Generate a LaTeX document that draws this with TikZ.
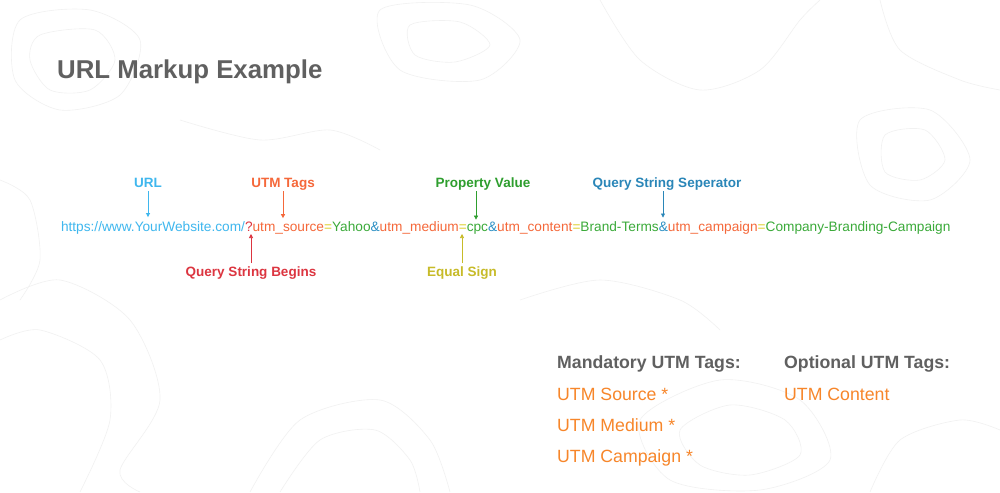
\documentclass[tikz,border=0pt]{standalone}
\usepackage{fontspec}
\setmainfont{Liberation Sans}
\usetikzlibrary{arrows.meta}
\definecolor{urlblue}{HTML}{3FB7EE}
\definecolor{qred}{HTML}{DC3540}
\definecolor{tagor}{HTML}{F5683A}
\definecolor{eqy}{HTML}{DDD02E}
\definecolor{valg}{HTML}{3BAA3A}
\definecolor{ampb}{HTML}{2A8FC4}
\definecolor{pvg}{HTML}{2E9E2E}
\definecolor{sepb}{HTML}{2A86B8}
\definecolor{headg}{HTML}{606060}
\definecolor{itemor}{HTML}{F7862A}
\definecolor{topo}{HTML}{F1F1F1}
\tikzset{
  seg/.style={inner sep=0pt, outer sep=0pt, anchor=base west, font=\fontsize{13.68}{16}\selectfont},
  lbl/.style={inner sep=0pt, outer sep=0pt, anchor=base, font=\fontsize{13.5}{16}\selectfont\bfseries},
  ptr/.style={-{Triangle[length=4pt,width=4pt]}, line width=0.7pt},
  head/.style={inner sep=0pt, anchor=base west, text=headg, font=\fontsize{17.7}{21}\selectfont\bfseries},
  item/.style={inner sep=0pt, anchor=base west, text=itemor, font=\fontsize{17.7}{21}\selectfont},
  contour/.style={draw=topo, line width=0.6pt}
}
\begin{document}
\begin{tikzpicture}[x=1pt,y=-1pt]
\useasboundingbox (0,0) rectangle (1000,492);
\fill[white] (0,0) rectangle (1000,492);
% faint topographic background
\draw[contour] plot[smooth cycle] coordinates {(20,20) (90,10) (140,40) (120,95) (60,110) (15,80)};
\draw[contour] plot[smooth cycle] coordinates {(40,35) (95,30) (115,60) (90,90) (50,90) (30,60)};
\draw[contour] plot[smooth cycle] coordinates {(380,10) (470,5) (520,40) (480,80) (400,70)};
\draw[contour] plot[smooth cycle] coordinates {(410,25) (460,22) (490,45) (455,62) (415,55)};
\draw[contour] plot[smooth] coordinates {(600,0) (640,60) (700,90) (760,70) (800,20) (820,0)};
\draw[contour] plot[smooth] coordinates {(880,0) (900,50) (960,80) (1000,90)};
\draw[contour] plot[smooth cycle] coordinates {(860,120) (930,110) (970,160) (930,200) (870,185)};
\draw[contour] plot[smooth cycle] coordinates {(885,135) (925,130) (945,160) (920,180) (885,172)};
\draw[contour] plot[smooth] coordinates {(0,300) (60,280) (130,320) (160,400) (120,470) (140,492)};
\draw[contour] plot[smooth] coordinates {(0,340) (40,330) (100,360) (110,420) (80,492)};
\draw[contour] plot[smooth] coordinates {(250,492) (300,420) (380,400) (430,440) (450,492)};
\draw[contour] plot[smooth] coordinates {(280,492) (320,440) (375,430) (410,460) (420,492)};
\draw[contour] plot[smooth cycle] coordinates {(640,420) (720,380) (800,400) (830,460) (760,490) (670,480)};
\draw[contour] plot[smooth cycle] coordinates {(680,430) (730,405) (785,420) (800,455) (750,475) (700,465)};
\draw[contour] plot[smooth] coordinates {(870,492) (900,440) (960,420) (1000,430)};
\draw[contour] plot[smooth] coordinates {(180,120) (260,140) (330,130) (380,150)};
\draw[contour] plot[smooth] coordinates {(520,300) (600,280) (680,300) (720,330)};
\draw[contour] plot[smooth] coordinates {(0,180) (30,200) (40,260) (20,300)};

% title
\node[inner sep=0pt, anchor=base west, text=headg, font=\fontsize{25.8}{30}\selectfont\bfseries] (title) at (57,79) {URL Markup Example};

% URL string as chain of segments
\node[seg, text=urlblue] (s1) at (61,231) {https://www.YourWebsite.com/};
\node[seg, text=qred] (s2) at (s1.base east) {?};
\node[seg, text=tagor] (s3) at (s2.base east) {utm\_source};
\node[seg, text=eqy] (s4) at (s3.base east) {=};
\node[seg, text=valg] (s5) at (s4.base east) {Yahoo};
\node[seg, text=ampb] (s6) at (s5.base east) {\&};
\node[seg, text=tagor] (s7) at (s6.base east) {utm\_medium};
\node[seg, text=eqy] (s8) at (s7.base east) {=};
\node[seg, text=valg] (s9) at (s8.base east) {cpc};
\node[seg, text=ampb] (s10) at (s9.base east) {\&};
\node[seg, text=tagor] (s11) at (s10.base east) {utm\_content};
\node[seg, text=eqy] (s12) at (s11.base east) {=};
\node[seg, text=valg] (s13) at (s12.base east) {Brand-Terms};
\node[seg, text=ampb] (s14) at (s13.base east) {\&};
\node[seg, text=tagor] (s15) at (s14.base east) {utm\_campaign};
\node[seg, text=eqy] (s16) at (s15.base east) {=};
\node[seg, text=valg] (s17) at (s16.base east) {Company-Branding-Campaign};

% labels above
\node[lbl, text=urlblue] (lurl) at (148,187) {URL};
\node[lbl, text=tagor] (ltag) at (283,187) {UTM Tags};
\node[lbl, text=pvg] (lpv) at (483,187) {Property Value};
\node[lbl, text=sepb] (lsep) at (667,187) {Query String Seperator};
% labels below
\node[lbl, text=qred] (lqsb) at (251,276) {Query String Begins};
\node[lbl, text=eqy!90!black] (leq) at (462,276) {Equal Sign};

% pointer start points just below / above the labels
\coordinate (p1) at (lurl.base |- 0,191);
\coordinate (p2) at (ltag.base |- 0,191);
\coordinate (p3) at ([xshift=-7pt]lpv.base |- 0,191);
\coordinate (p4) at ([xshift=-4pt]lsep.base |- 0,191);
\coordinate (p5) at (lqsb.base |- 0,263);
\coordinate (p6) at (leq.base |- 0,263);

% pointers
\draw[ptr, urlblue, shorten >=4pt] (p1) -- (p1 |- s1.north);
\draw[ptr, tagor, shorten >=4pt] (p2) -- (p2 |- s3.north);
\draw[ptr, pvg, shorten >=4pt] (p3) -- (p3 |- s9.north);
\draw[ptr, sepb, shorten >=4pt] (p4) -- (p4 |- s14.north);
\draw[ptr, qred, shorten >=3pt] (p5) -- (p5 |- s2.south);
\draw[ptr, eqy!90!black, shorten >=3pt] (p6) -- (p6 |- s8.south);

% bottom lists
\node[head] (hm) at (557,368) {Mandatory UTM Tags:};
\node[head] (ho) at (784,368) {Optional UTM Tags:};
\node[item] (i1) at (557,400) {UTM Source *};
\node[item] (i2) at (557,431) {UTM Medium *};
\node[item] (i3) at (557,462) {UTM Campaign *};
\node[item] (i4) at (784,400) {UTM Content};
\end{tikzpicture}
\end{document}
